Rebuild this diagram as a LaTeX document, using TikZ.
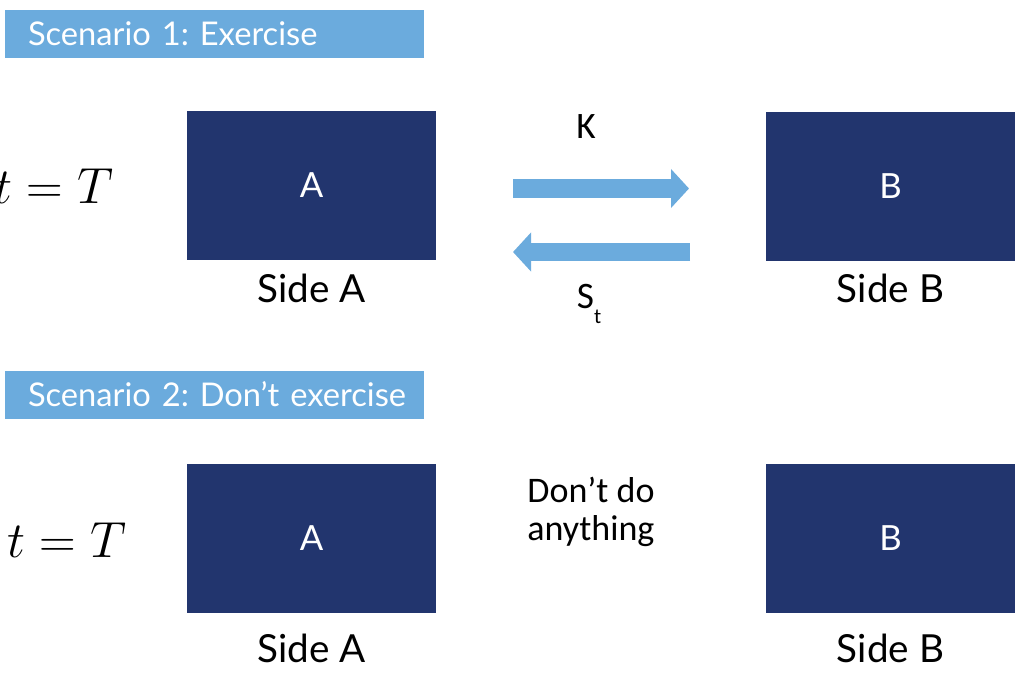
\documentclass[tikz,border=0pt]{standalone}
\usepackage{graphicx}
\usepackage{fontspec}
\setmainfont{Lato}
\newfontfamily\calibri{Carlito}
\usepackage{tikz}
\usetikzlibrary{arrows.meta,positioning}
\definecolor{navy}{RGB}{34,53,110}
\definecolor{skyblue}{RGB}{107,171,221}
\newcommand{\bigtime}{\scalebox{1.53}{\fontsize{24.88}{28}\selectfont$t=T$}}
\frenchspacing

\begin{document}
\begin{tikzpicture}[x=0.75pt,y=-0.75pt,
    side/.style={fill=navy,text=white,minimum width=186.75pt,minimum height=111.75pt,
      inner sep=0pt,font=\fontsize{26}{30}\selectfont},
    banner/.style={fill=skyblue,text=white,text width=314.25pt,minimum height=36pt,
      inner xsep=0pt,align=left,font=\fontsize{24.5}{28}\selectfont},
    caption/.style={inner sep=0pt,font=\fontsize{29}{32}\selectfont},
    flow/.style={skyblue,line width=13.9pt,-{Triangle[length=13.5pt,width=28.5pt]}},
    note/.style={font=\calibri\fontsize{28}{32}\selectfont}]
                \useasboundingbox (0,0) rectangle (1017,675);
                % scenario 1
                \node[banner] (sc1) at (214.5,34) {\hspace*{17.25pt}Scenario 1: Exercise};
                \node (t1) at (54,186) {\bigtime};
                \node[side] (a1) at (311.5,185.5) {A};
                \node[side] (b1) at (890.5,186) {B};
                \node[caption,below=10pt of a1] (ca1) {Side A};
                \node[caption,below=10pt of b1] (cb1) {Side B};
                \coordinate (k0) at (513,188.5);
                \coordinate (k1) at (689,188.5);
                \coordinate (s0) at (690,252);
                \coordinate (s1) at (513,252);
                \draw [flow] (k0) -- (k1);
                \draw [flow] (s0) -- (s1);
                \node[note] (k) at (586,127) {K};
                \node[note] (s) at (589,304) {S\raisebox{-11pt}{\fontsize{16}{16}\selectfont t}};
                % scenario 2
                \node[banner] (sc2) at (214.5,394.5) {\hspace*{17.25pt}Scenario 2: Don’t exercise};
                \node (t2) at (67,540) {\bigtime};
                \node[side] (a2) at (311.5,538.5) {A};
                \node[side] (b2) at (890.5,538.5) {B};
                \node[caption,below=15pt of a2] (ca2) {Side A};
                \node[caption,below=15pt of b2] (cb2) {Side B};
                \node[note,align=left,font=\calibri\fontsize{27}{28}\selectfont] (nil) at (591,512) {Don’t do\\anything};
            \end{tikzpicture}
\end{document}
